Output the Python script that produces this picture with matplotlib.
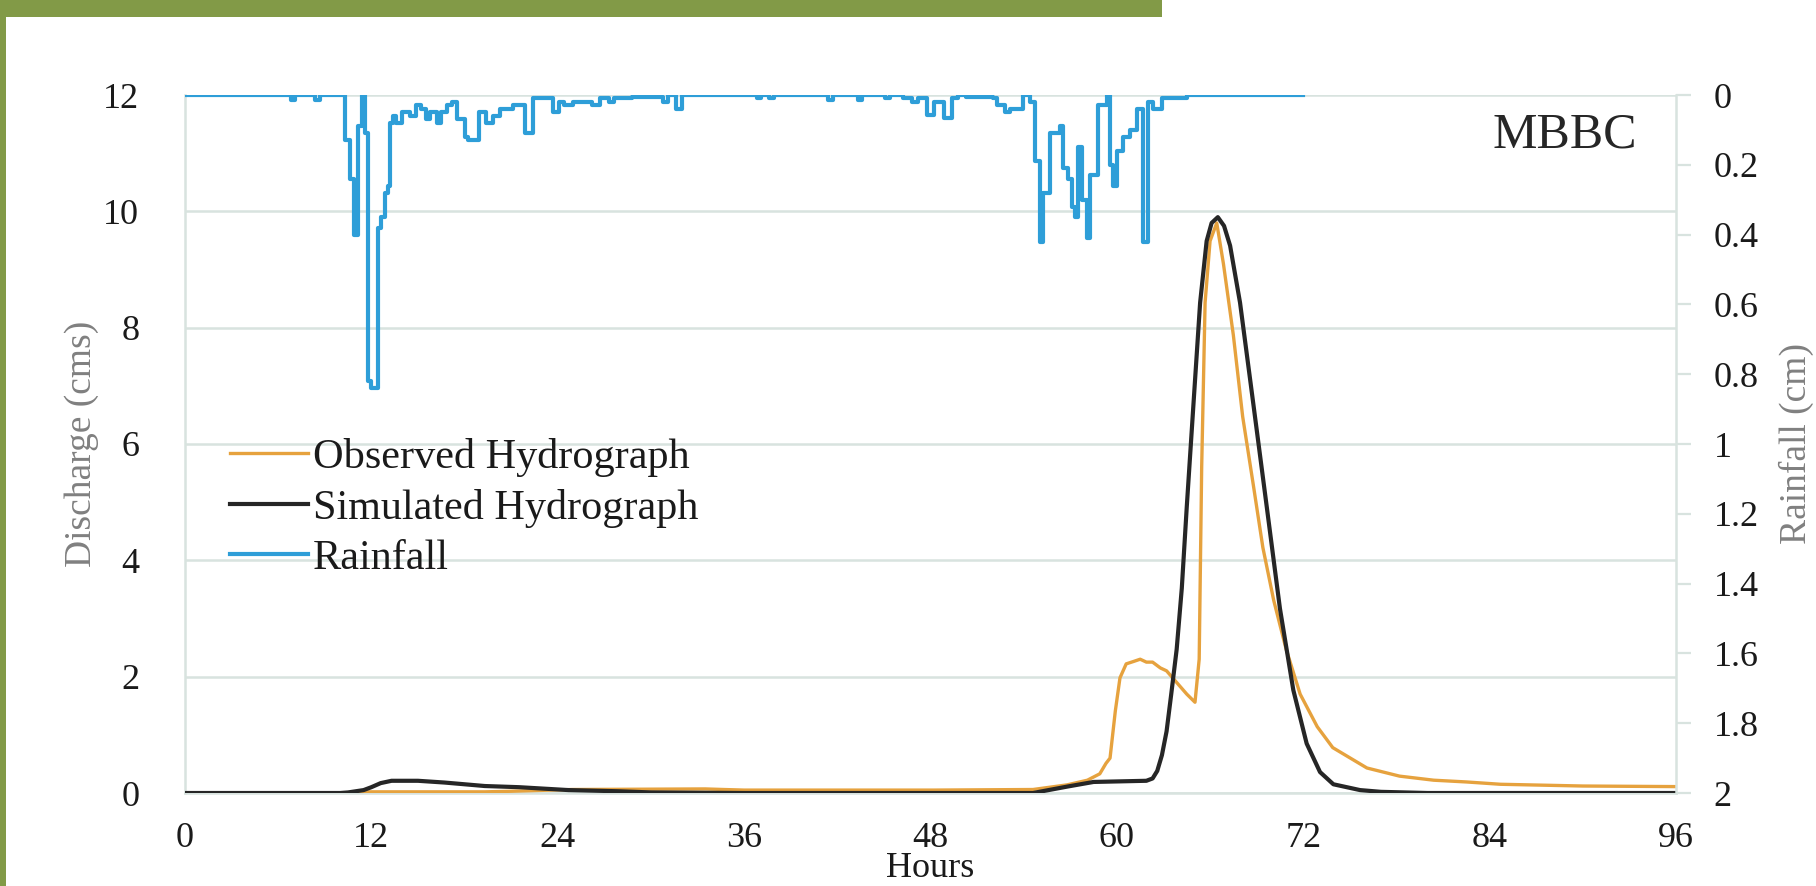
import matplotlib
matplotlib.use("Agg")
import matplotlib.pyplot as plt
from matplotlib.patches import Rectangle
from matplotlib.ticker import FuncFormatter

# ---------------- data ----------------
rain_hours = [0.0, 6.8, 7.1, 8.4, 8.7, 10.3, 10.6, 10.85, 11.15, 11.4, 11.6, 11.8, 12.0,
              12.45, 12.6, 12.88, 13.1, 13.2, 13.4, 13.6, 14.0, 14.5, 14.9, 15.2, 15.5,
              15.8, 16.2, 16.5, 16.85, 17.2, 17.5, 18.0, 18.2, 18.9, 19.4, 19.85, 20.3,
              21.1, 21.9, 22.4, 23.7, 24.1, 24.4, 25.0, 26.2, 26.7, 27.3, 27.6, 28.8,
              30.8, 31.1, 31.6, 32.0, 36.8, 37.1, 37.6, 37.9, 41.4, 41.7, 43.3, 43.6,
              45.1, 45.4, 46.2, 46.8, 47.2, 47.8, 48.2, 48.9, 49.4, 49.8, 50.3, 52.0,
              52.3, 52.8, 53.1, 53.98, 54.4, 54.73, 55.05, 55.27, 55.7, 56.34, 56.56,
              56.88, 57.09, 57.3, 57.52, 57.73, 58.06, 58.27, 58.8, 59.34, 59.56, 59.77,
              59.99, 60.42, 60.85, 61.28, 61.7, 62.03, 62.35, 62.9, 64.5, 72.0]
rain_cm = [0.0, 0.015, 0.0, 0.015, 0.0, 0.13, 0.24, 0.40, 0.09, 0.0, 0.11, 0.82, 0.84,
           0.38, 0.35, 0.28, 0.26, 0.08, 0.06, 0.08, 0.05, 0.06, 0.03, 0.04, 0.07,
           0.05, 0.08, 0.05, 0.03, 0.02, 0.07, 0.12, 0.13, 0.05, 0.08, 0.06, 0.04,
           0.03, 0.11, 0.01, 0.05, 0.02, 0.03, 0.02, 0.03, 0.01, 0.02, 0.01, 0.005,
           0.02, 0.0, 0.04, 0.0, 0.01, 0.0, 0.01, 0.0, 0.015, 0.0, 0.015, 0.0,
           0.01, 0.0, 0.01, 0.02, 0.01, 0.057, 0.02, 0.067, 0.01, 0.0, 0.005, 0.01,
           0.03, 0.05, 0.04, 0.0, 0.02, 0.19, 0.42, 0.28, 0.11, 0.09, 0.21,
           0.24, 0.32, 0.35, 0.15, 0.30, 0.41, 0.23, 0.03, 0.0, 0.20, 0.26,
           0.16, 0.12, 0.10, 0.04, 0.42, 0.02, 0.04, 0.01, 0.0, 0.0]

sim_hours = [0, 10.0, 10.5, 11.5, 12.0, 12.6, 13.3, 15.0, 16.7, 19.3, 21.5, 24.7, 27.9,
             30.0, 36.0, 54.6, 55.6, 56.8, 58.5, 61.9, 62.3, 62.6, 62.9, 63.2, 63.5,
             63.85, 64.18, 64.5, 64.93, 65.36, 65.78, 66.1, 66.5, 66.9, 67.29, 67.93,
             68.79, 69.65, 70.5, 71.36, 72.22, 73.08, 73.94, 75.66, 77.0, 80.0, 96.0]
sim_q = [0.0, 0.0, 0.01, 0.05, 0.10, 0.17, 0.21, 0.21, 0.18, 0.12, 0.10, 0.05, 0.03,
         0.01, 0.0, 0.0, 0.05, 0.11, 0.19, 0.21, 0.25, 0.38, 0.65, 1.06, 1.70,
         2.47, 3.52, 4.92, 6.68, 8.43, 9.49, 9.80, 9.90, 9.75, 9.41, 8.43,
         6.68, 4.92, 3.17, 1.77, 0.85, 0.36, 0.15, 0.05, 0.02, 0.0, 0.0]

obs_hours = [0, 10.7, 11.6, 19.3, 21.0, 24.9, 33.5, 34.7, 36.0, 48.2, 54.6, 56.8, 58.1,
             58.9, 59.3, 59.56, 59.9, 60.2, 60.6, 61.06, 61.5, 61.9, 62.3, 62.8, 63.2,
             63.85, 64.5, 65.03, 65.3, 65.46, 65.68, 66.0, 66.43, 66.86, 67.5, 68.1,
             68.8, 69.4, 70.1, 70.9, 71.8, 72.9, 73.9, 76.1, 78.2, 80.4, 82.5, 84.7,
             90.0, 96.0]
obs_q = [0.0, 0.0, 0.02, 0.02, 0.03, 0.06, 0.07, 0.06, 0.05, 0.05, 0.06, 0.14, 0.22,
         0.33, 0.51, 0.60, 1.41, 1.98, 2.22, 2.26, 2.30, 2.25, 2.25, 2.15, 2.10,
         1.90, 1.70, 1.56, 2.30, 5.60, 8.43, 9.49, 9.80, 9.10, 7.87, 6.47,
         5.27, 4.22, 3.31, 2.47, 1.70, 1.14, 0.78, 0.43, 0.29, 0.22, 0.19, 0.15,
         0.12, 0.11]

x_ticks = [0, 12, 24, 36, 48, 60, 72, 84, 96]
q_ticks = [0, 2, 4, 6, 8, 10, 12]
rain_ticks = [0, 0.2, 0.4, 0.6, 0.8, 1.0, 1.2, 1.4, 1.6, 1.8, 2.0]

# ---------------- style ----------------
FONT = ["Liberation Serif", "DejaVu Serif"]
plt.rcParams["font.family"] = FONT
GRID = "#d8e3df"
ORANGE = "#e6a23e"
BLACK = "#262626"
BLUE = "#2e9ed8"
GREEN = "#829a47"
TXT = "#1a1a1a"

W, H = 1816, 886
fig = plt.figure(figsize=(W / 100, H / 100), dpi=100)
fig.patch.set_facecolor("white")

# frame decoration (green bars)
fig.patches.append(Rectangle((0, 1 - 17 / H), 1162 / W, 17 / H, transform=fig.transFigure,
                             facecolor=GREEN, edgecolor="none", zorder=10))
fig.patches.append(Rectangle((0, 0), 6 / W, 1, transform=fig.transFigure,
                             facecolor=GREEN, edgecolor="none", zorder=10))

L, R, T, B = 185, 1676, 95, 793
ax = fig.add_axes([L / W, 1 - B / H, (R - L) / W, (B - T) / H])

obs_line, = ax.plot(obs_hours, obs_q, color=ORANGE, lw=2.4, label="Observed Hydrograph",
                    zorder=3)
sim_line, = ax.plot(sim_hours, sim_q, color=BLACK, lw=3.0, label="Simulated Hydrograph",
                    zorder=4)
ax.set_xlim(0, 96)
ax.set_ylim(0, 12)
ax.set_xticks(x_ticks)
ax.set_yticks(q_ticks)
ax.yaxis.grid(True, color=GRID, lw=1.8)
ax.set_axisbelow(True)
for s in ["top", "right"]:
    ax.spines[s].set_visible(False)
ax.spines["left"].set_color(GRID)
ax.spines["left"].set_linewidth(1.8)
ax.spines["bottom"].set_color(GRID)
ax.spines["bottom"].set_linewidth(1.8)
ax.tick_params(axis="y", length=0, pad=33, labelsize=26, labelcolor=TXT)
ax.tick_params(axis="x", length=0, pad=21, labelsize=26, labelcolor=TXT)

ax.set_xlabel("Hours", fontsize=26, color=TXT)
ax.xaxis.set_label_coords(0.5, -0.085)
ax.set_ylabel("Discharge (cms)", fontsize=27, color="#808080")
ax.yaxis.set_label_coords(-0.058, 0.5)

ax2 = ax.twinx()
rain_line, = ax2.plot(rain_hours, rain_cm, color=BLUE, lw=3.0, drawstyle="steps-post",
                      label="Rainfall", zorder=5)
ax2.set_ylim(2, 0)
ax2.set_yticks(rain_ticks)
ax2.yaxis.set_major_formatter(FuncFormatter(lambda v, p: f"{v:g}"))
for s in ["top", "left", "bottom"]:
    ax2.spines[s].set_visible(False)
ax2.spines["right"].set_color(GRID)
ax2.spines["right"].set_linewidth(1.8)
ax2.tick_params(axis="y", length=11, width=1.6, color=GRID, pad=16, labelsize=26,
                labelcolor=TXT)
ax2.set_ylabel("Rainfall (cm)", fontsize=27, color="#808080")
ax2.yaxis.set_label_coords(1.069, 0.5)

ax2.text(0.9256, 0.9255, "MBBC", transform=ax.transAxes, ha="center", va="baseline",
         fontsize=36, color=BLACK)

leg = ax2.legend(handles=[obs_line, sim_line, rain_line], loc="upper left",
                 bbox_to_anchor=(230 / W, 1 - 438 / H), bbox_transform=fig.transFigure,
                 frameon=False, fontsize=30.4, handlelength=1.85, handletextpad=0.12,
                 labelspacing=0.28, borderpad=0, borderaxespad=0)
for t in leg.get_texts():
    t.set_color(TXT)

fig.savefig("out.png", dpi=100, facecolor="white")
